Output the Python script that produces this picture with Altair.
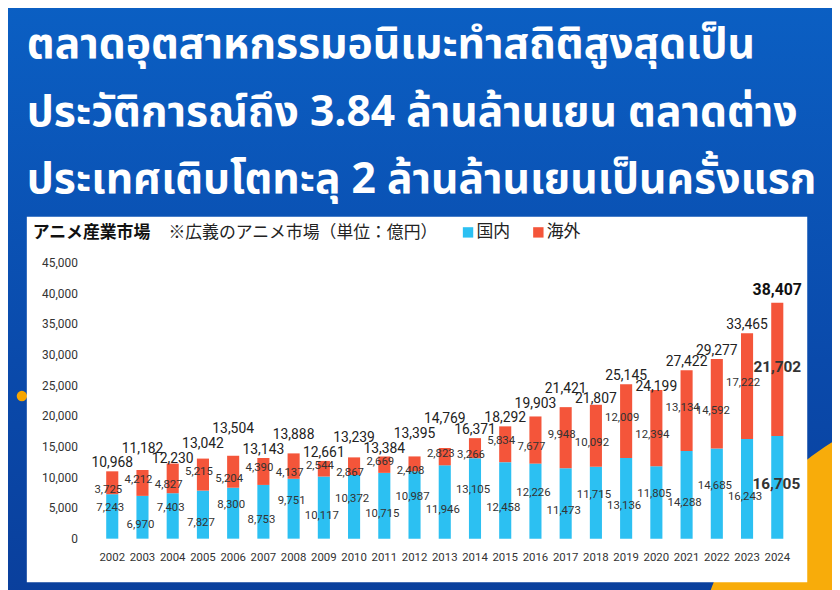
import altair as alt
import pandas as pd

# ---------------- data ----------------
years = [str(y) for y in range(2002, 2025)]
domestic = [7243, 6970, 7403, 7827, 8300, 8753, 9751, 10117, 10372, 10715, 10987, 11946,
            13105, 12458, 12226, 11473, 11715, 13136, 11805, 14288, 14685, 16243, 16705]
overseas = [3725, 4212, 4827, 5215, 5204, 4390, 4137, 2544, 2867, 2669, 2408, 2823,
            3266, 5834, 7677, 9948, 10092, 12009, 12394, 13134, 14592, 17222, 21702]
totals = [10968, 11182, 12230, 13042, 13504, 13143, 13888, 12661, 13239, 13384, 13395, 14769,
          16371, 18292, 19903, 21421, 21807, 25145, 24199, 27422, 29277, 33465, 38407]
series_names = ["国内", "海外"]
y_ticks = list(range(0, 45001, 5000))

title_lines = [
    "ตลาดอุตสาหกรรมอนิเมะทำสถิติสูงสุดเป็น",
    "ประวัติการณ์ถึง 3.84 ล้านล้านเยน ตลาดต่าง",
    "ประเทศเติบโตทะลุ 2 ล้านล้านเยนเป็นครั้งแรก",
]
panel_title = "アニメ産業市場"
panel_note = "※広義のアニメ市場（単位：億円）"

# ---------------- layout ----------------
W, H = 702, 279
YMAX = 45000
ppu = H / YMAX  # pixels per unit

BLUE = "#2cc0f2"
RED = "#f4553a"
THAI_FONT = "Noto Sans Thai, Noto Sans, DejaVu Sans, sans-serif"
JP_FONT = "Noto Sans CJK JP"
NUM_FONT = "Roboto, sans-serif"

# long table for stacked bars
rows = []
for i, yr in enumerate(years):
    rows.append({"year": yr, "series": series_names[0], "value": domestic[i], "ord": 0})
    rows.append({"year": yr, "series": series_names[1], "value": overseas[i], "ord": 1})
bars_df = pd.DataFrame(rows)

# label table (positions derived from values)
lab = pd.DataFrame({"year": years, "dom": domestic, "ovs": overseas, "tot": totals})
lab["dom_mid"] = lab["dom"] / 2
lab["ovs_mid"] = lab["dom"] + lab["ovs"] / 2
lab["odd"] = [int(y) % 2 == 1 for y in years]
lab["last"] = [y == years[-1] for y in years]
lab["dom_txt"] = lab["dom"].map(lambda v: f"{v:,}")
lab["ovs_txt"] = lab["ovs"].map(lambda v: f"{v:,}")
lab["tot_txt"] = lab["tot"].map(lambda v: f"{v:,}")

# stagger total labels so neighbouring labels do not collide
pos_list = []
prev = None
for t, o in zip(totals, overseas):
    nat = t * ppu + 8
    pos = nat
    if prev is not None and abs(nat - prev) < 11:
        lower = prev - 10.5
        slack = 5 if o * ppu > 25 else 2
        pos = lower if lower >= nat - slack else prev + 15
    pos_list.append(pos)
    prev = pos
lab["tot_pos"] = [p / ppu for p in pos_list]

one = pd.DataFrame({"k": [0]})

# ---------------- shared scales / axes ----------------
X_SCALE = alt.Scale(domain=years, paddingInner=0.6, paddingOuter=0.3)
Y_SCALE = alt.Scale(domain=[0, YMAX], nice=False)
X_AXIS = alt.Axis(title=None, labelAngle=0, ticks=False, domain=False,
                  labelFont=NUM_FONT, labelFontSize=11.5, labelColor="#333",
                  labelPadding=13, zindex=1)
Y_AXIS = alt.Axis(title=None, values=y_ticks, grid=False, ticks=False,
                  labelExpr="format(datum.value, ',')",
                  domain=False, labelFont=NUM_FONT, labelFontSize=12,
                  labelColor="#333", labelPadding=20, zindex=1)


def X():
    return alt.X("year:N", sort=years, scale=X_SCALE, axis=X_AXIS)


def Y(field, **kw):
    return alt.Y(field, scale=Y_SCALE, axis=Y_AXIS, **kw)


# ---------------- background decoration ----------------
bg = alt.Chart(one).mark_rect(
    fill=alt.Gradient(gradient="linear", x1=0, y1=0, x2=0, y2=1,
                      stops=[alt.GradientStop(color="#0b5fc3", offset=0),
                             alt.GradientStop(color="#0a4aab", offset=0.6),
                             alt.GradientStop(color="#0a3f9c", offset=1)])
).encode(x=alt.value(-100), x2=alt.value(760), y=alt.value(-260), y2=alt.value(340))

sun = alt.Chart(one).mark_circle(size=365000, opacity=1, color="#f8ac0a").encode(
    x=alt.value(902), y=alt.value(438))
dot = alt.Chart(one).mark_circle(size=110, opacity=1, color="#f6a500").encode(
    x=alt.value(-76), y=alt.value(135))

panel = alt.Chart(one).mark_rect(fill="white").encode(
    x=alt.value(-71), x2=alt.value(717), y=alt.value(-46), y2=alt.value(323))

title_layers = []
for i, line in enumerate(title_lines):
    title_layers.append(
        alt.Chart(pd.DataFrame({"t": [line]})).mark_text(
            align="left", baseline="alphabetic", font=THAI_FONT, fontSize=43,
            fontWeight="bold", color="white"
        ).encode(text="t:N", x=alt.value(-71), y=alt.value(-206 + i * 68))
    )

head1 = alt.Chart(pd.DataFrame({"t": [panel_title]})).mark_text(
    align="left", baseline="middle", font=JP_FONT, fontSize=17, fontWeight="bold", color="#111"
).encode(text="t:N", x=alt.value(-65), y=alt.value(-30))
head2 = alt.Chart(pd.DataFrame({"t": [panel_note]})).mark_text(
    align="left", baseline="middle", font=JP_FONT, fontSize=17, color="#222"
).encode(text="t:N", x=alt.value(72), y=alt.value(-30))

# ---------------- bars ----------------
bars = alt.Chart(bars_df).mark_bar().encode(
    x=X(),
    y=Y("value:Q", stack="zero"),
    color=alt.Color("series:N", scale=alt.Scale(domain=series_names, range=[BLUE, RED]),
                    legend=alt.Legend(title=None, orient="none", legendX=366, legendY=-39,
                                      direction="horizontal", symbolType="square",
                                      symbolSize=110, symbolStrokeWidth=0,
                                      labelFont=JP_FONT, labelFontSize=17,
                                      labelColor="#222", columnPadding=20,
                                      labelOffset=0)),
    order=alt.Order("ord:Q"),
)


# ---------------- labels ----------------
def seg_labels(field_y, field_t, dy, cond, size=11.5, weight="normal", dx=-2):
    return alt.Chart(lab).transform_filter(cond).mark_text(
        baseline="middle", align="center", font=NUM_FONT, fontSize=size,
        fontWeight=weight, color="#333", dy=dy, dx=dx
    ).encode(x=X(), y=Y(f"{field_y}:Q"), text=f"{field_t}:N")


normal = "!datum.last"
layers_lab = [
    seg_labels("dom_mid", "dom_txt", 8, f"{normal} && datum.odd"),
    seg_labels("dom_mid", "dom_txt", -8, f"{normal} && !datum.odd"),
    seg_labels("ovs_mid", "ovs_txt", -3, f"{normal} && datum.odd", dx=-4),
    seg_labels("ovs_mid", "ovs_txt", 7, f"{normal} && !datum.odd", dx=-4),
    seg_labels("dom_mid", "dom_txt", -3, "datum.last", size=15.5, weight="bold", dx=-1),
    seg_labels("ovs_mid", "ovs_txt", -2, "datum.last", size=15.5, weight="bold", dx=0),
]

tot_norm = alt.Chart(lab).transform_filter(normal).mark_text(
    baseline="middle", align="center", font=NUM_FONT, fontSize=14, color="#222"
).encode(x=X(), y=Y("tot_pos:Q"), text="tot_txt:N")
tot_last = alt.Chart(lab).transform_filter("datum.last").mark_text(
    baseline="middle", align="center", font=NUM_FONT, fontSize=16, fontWeight="bold",
    color="#111", dy=-13
).encode(x=X(), y=Y("tot:Q"), text="tot_txt:N")
layers_lab += [tot_norm, tot_last]

chart = alt.layer(bg, sun, dot, panel, *title_layers, head1, head2, bars, *layers_lab).properties(
    width=W, height=H,
    autosize=alt.AutoSizeParams(type="none"),
    padding={"left": 90, "top": 254, "right": 40, "bottom": 49},
    background="#0a4aab",
).configure_view(stroke=None)

chart.save("out.html", embed_options={"renderer": "svg", "actions": False})
